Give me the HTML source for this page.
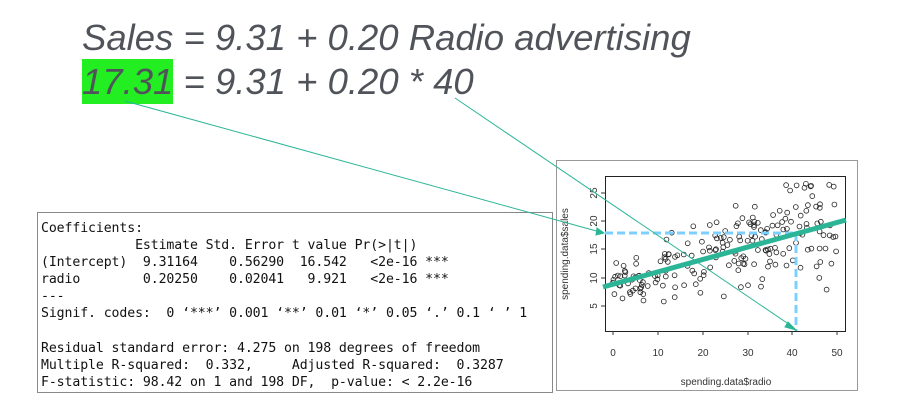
<!DOCTYPE html>
<html><head><meta charset="utf-8"><style>
body{margin:0;width:899px;height:408px;background:#fff;position:relative;overflow:hidden;font-family:"Liberation Sans",sans-serif}
.t{position:absolute;left:82px;font-style:italic;font-size:36.5px;color:#50545a;white-space:nowrap;line-height:1}
.hl{background:#22ee22;padding:2px 0}
pre{position:absolute;left:37px;top:212px;width:516px;height:181px;margin:0;border:1px solid #888;font-family:"DejaVu Sans Mono","Liberation Mono",monospace;font-size:13.2px;line-height:17.1px;padding:7px 0 0 3px;box-sizing:border-box;color:#111;letter-spacing:-0.1px}
</style></head><body>
<div class="t" style="top:20px">Sales = 9.31 + 0.20 Radio advertising</div>
<div class="t" style="top:64px"><span class="hl">17.31</span> = 9.31 + 0.20 * 40</div>
<pre>Coefficients:
            Estimate Std. Error t value Pr(&gt;|t|)
(Intercept)  9.31164    0.56290  16.542   &lt;2e-16 ***
radio        0.20250    0.02041   9.921   &lt;2e-16 ***
---
Signif. codes:  0 ‘***’ 0.001 ‘**’ 0.01 ‘*’ 0.05 ‘.’ 0.1 ‘ ’ 1

Residual standard error: 4.275 on 198 degrees of freedom
Multiple R-squared:  0.332,     Adjusted R-squared:  0.3287
F-statistic: 98.42 on 1 and 198 DF,  p-value: &lt; 2.2e-16</pre>
<svg width="899" height="408" style="position:absolute;left:0;top:0" id="s">
<rect x="556.5" y="160.5" width="301" height="230" fill="none" stroke="#999"/>
<rect x="605.5" y="176.5" width="240" height="155" fill="none" stroke="#222"/>
<g id="pts" fill="none" stroke="#222" stroke-width="0.8"></g>
<line x1="605" y1="233" x2="796" y2="233" stroke="#7cd0ff" stroke-width="3" stroke-dasharray="8,4"/>
<line x1="796" y1="233" x2="796" y2="331" stroke="#7cd0ff" stroke-width="3" stroke-dasharray="8,4"/>
<line x1="603" y1="287" x2="846" y2="220" stroke="#2bb596" stroke-width="5"/>
<g stroke="#333" font-size="10" fill="#333" font-family="Liberation Sans">
<g stroke-width="1">
<line x1="613" y1="331" x2="613" y2="335"/><line x1="658" y1="331" x2="658" y2="335"/><line x1="703" y1="331" x2="703" y2="335"/><line x1="748" y1="331" x2="748" y2="335"/><line x1="792" y1="331" x2="792" y2="335"/><line x1="837" y1="331" x2="837" y2="335"/>
<line x1="601" y1="306" x2="605" y2="306"/><line x1="601" y1="278" x2="605" y2="278"/><line x1="601" y1="249" x2="605" y2="249"/><line x1="601" y1="221" x2="605" y2="221"/><line x1="601" y1="193" x2="605" y2="193"/>
</g>
<g stroke="none">
<text x="613" y="356" text-anchor="middle">0</text><text x="658" y="356" text-anchor="middle">10</text><text x="703" y="356" text-anchor="middle">20</text><text x="748" y="356" text-anchor="middle">30</text><text x="792" y="356" text-anchor="middle">40</text><text x="837" y="356" text-anchor="middle">50</text>
<g text-anchor="middle"><text transform="translate(597,306) rotate(-90)">5</text><text transform="translate(597,278) rotate(-90)">10</text><text transform="translate(597,249) rotate(-90)">15</text><text transform="translate(597,221) rotate(-90)">20</text><text transform="translate(597,193) rotate(-90)">25</text>
<text transform="translate(568,254) rotate(-90)">spending.data$sales</text></g>
<text x="726" y="385" text-anchor="middle">spending.data$radio</text>
</g></g>
<g stroke="#2bb596" stroke-width="1" fill="#2bb596">
<line x1="125" y1="101" x2="600" y2="232"/><polygon points="604,233 597,228 596,235"/>
<line x1="455" y1="98" x2="793" y2="327"/><polygon points="796,330 788,322 785,327"/>
</g>
</svg>
<script>
var g=document.getElementById('pts'),seed=7;function r(){seed=(seed*16807)%2147483647;return seed/2147483647;}
var h='';for(var i=0;i<200;i++){var x=r()*50;var sp=3+x*0.13;var y=9.31+0.2025*x+(r()+r()+r()-1.5)*sp;if(y<3)y=3+r();if(y>27)y=27-r();
h+='<circle cx="'+(613+x*4.48).toFixed(1)+'" cy="'+(334-y*5.65).toFixed(1)+'" r="2.4"/>';}g.innerHTML=h;
</script>
</body></html>
